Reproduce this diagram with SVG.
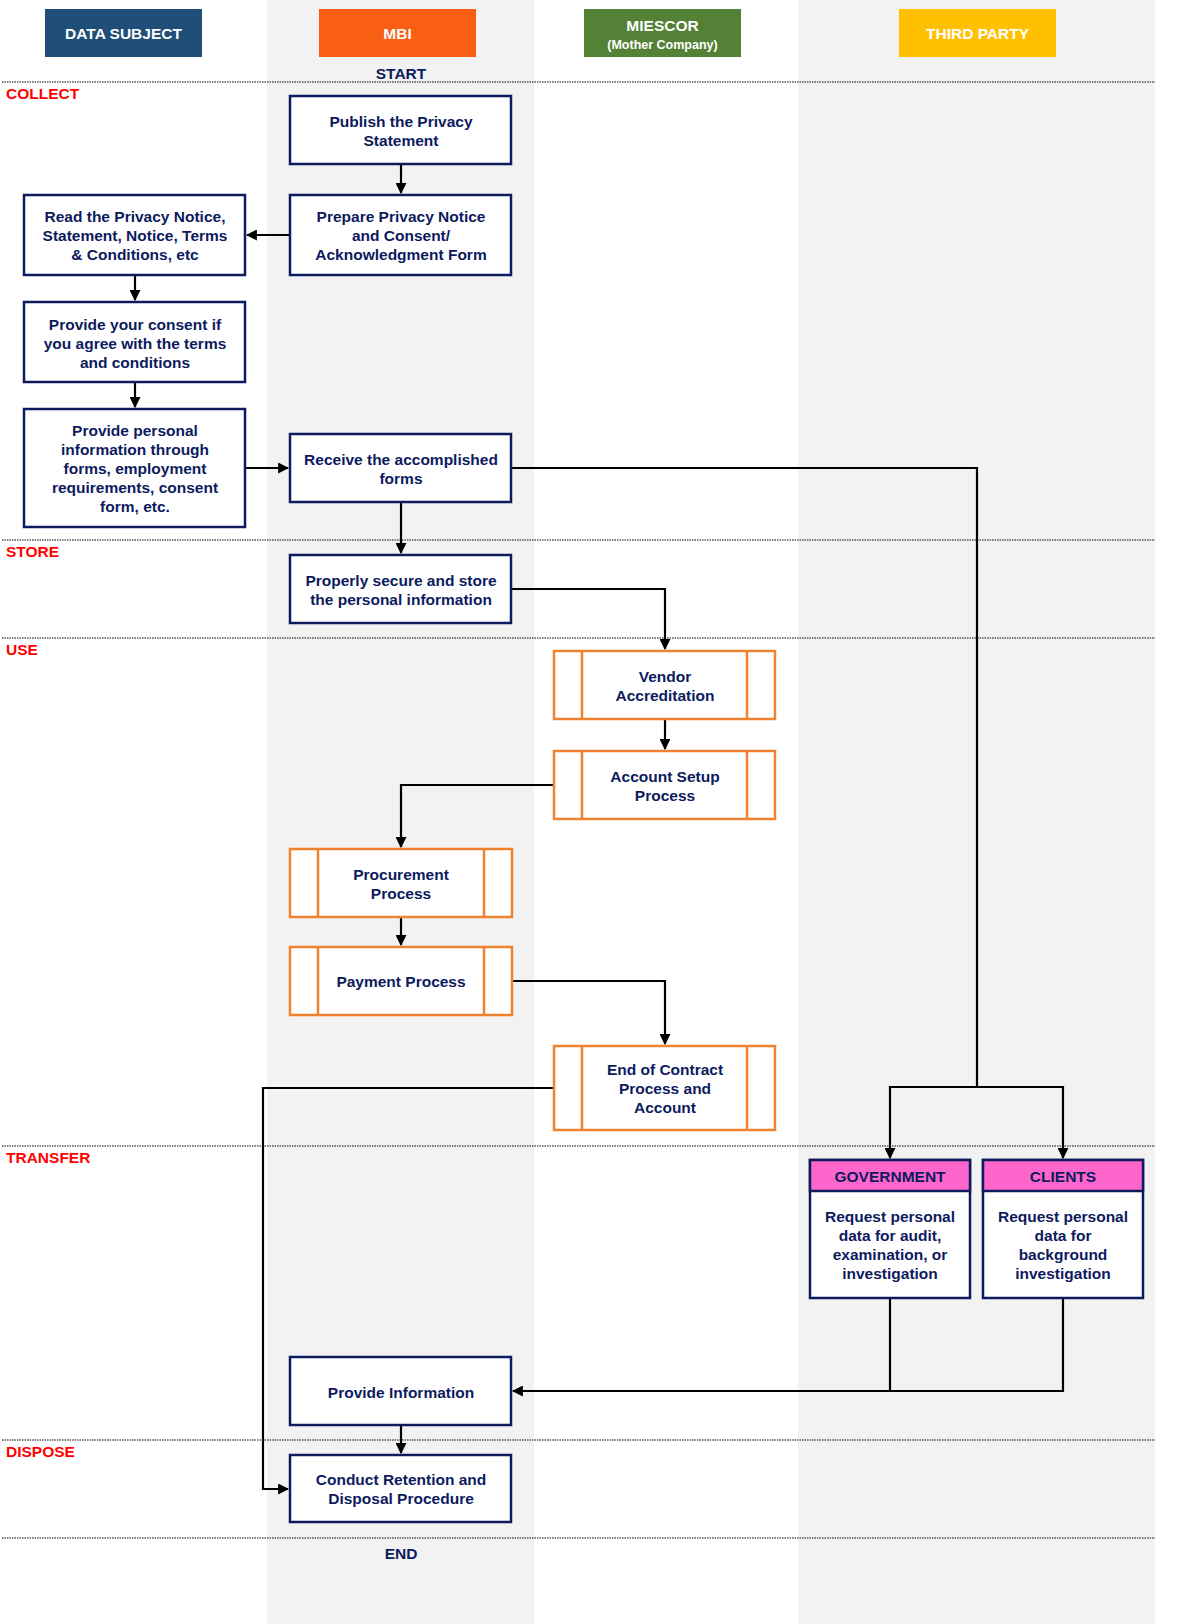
<svg xmlns="http://www.w3.org/2000/svg" width="1199" height="1624" viewBox="0 0 1199 1624">
<defs>
<marker id="ah" viewBox="0 0 10 10" refX="9" refY="5" markerWidth="5" markerHeight="5" orient="auto"><path d="M0,0 L10,5 L0,10 z" fill="#000"/></marker>
<style>
text{font-family:"Liberation Sans",Arial,sans-serif;font-weight:bold;}
.t{font-size:15.5px;fill:#0D1B5E;text-anchor:middle;}
.h{font-size:15.5px;fill:#fff;text-anchor:middle;}
.p{font-size:15.5px;fill:#FF0000;}
.b{fill:#fff;stroke:#0D1B5E;stroke-width:2.5;}
.o{fill:#fff;stroke:#F08232;stroke-width:2.5;}
.ol{stroke:#F08232;stroke-width:2.5;}
.d{stroke:#555;stroke-width:1.5;stroke-dasharray:1.5 1;}
.c{fill:none;stroke:#000;stroke-width:2.2;}
.pk{fill:#FF66CC;stroke:#0D1B5E;stroke-width:2.5;}
</style>
</defs>
<rect width="1199" height="1624" fill="#fff"/>
<rect x="267" y="0" width="267" height="1624" fill="#F2F2F2"/>
<rect x="798" y="0" width="357" height="1624" fill="#F2F2F2"/>
<g id="headers">
<rect x="45" y="9" width="157" height="48" fill="#1F4E79"/><text class="h" x="123.5" y="39">DATA SUBJECT</text>
<rect x="319" y="9" width="157" height="48" fill="#F95F14"/><text class="h" x="397.5" y="39">MBI</text>
<rect x="584" y="9" width="157" height="48" fill="#538135"/><text class="h" x="662.5" y="31">MIESCOR</text><text class="h" x="662.5" y="49" style="font-size:12.5px">(Mother Company)</text>
<rect x="899" y="9" width="157" height="48" fill="#FFC000"/><text class="h" x="977.5" y="39">THIRD PARTY</text>
<text class="t" x="401" y="79">START</text>
<text class="t" x="401" y="1559">END</text>
</g>
<g id="phases">
<line class="d" x1="2" y1="82" x2="1155" y2="82"/><line class="d" x1="2" y1="540" x2="1155" y2="540"/><line class="d" x1="2" y1="638" x2="1155" y2="638"/><line class="d" x1="2" y1="1146" x2="1155" y2="1146"/><line class="d" x1="2" y1="1440" x2="1155" y2="1440"/><line class="d" x1="2" y1="1538" x2="1155" y2="1538"/>
<text class="p" x="6" y="99">COLLECT</text><text class="p" x="6" y="557">STORE</text><text class="p" x="6" y="655">USE</text><text class="p" x="6" y="1163">TRANSFER</text><text class="p" x="6" y="1457">DISPOSE</text>
</g>
<g id="connectors">
<path class="c" d="M401,164V193" marker-end="url(#ah)"/>
<path class="c" d="M290,235H247" marker-end="url(#ah)"/>
<path class="c" d="M135,275V300" marker-end="url(#ah)"/>
<path class="c" d="M135,382V407" marker-end="url(#ah)"/>
<path class="c" d="M245,468H288" marker-end="url(#ah)"/>
<path class="c" d="M401,502V553" marker-end="url(#ah)"/>
<path class="c" d="M511,468H977V1087"/>
<path class="c" d="M977,1087H890V1158" marker-end="url(#ah)"/>
<path class="c" d="M977,1087H1063V1158" marker-end="url(#ah)"/>
<path class="c" d="M511,589H665V649" marker-end="url(#ah)"/>
<path class="c" d="M665,719V749" marker-end="url(#ah)"/>
<path class="c" d="M554,785H401V847" marker-end="url(#ah)"/>
<path class="c" d="M401,917V945" marker-end="url(#ah)"/>
<path class="c" d="M512,981H665V1044" marker-end="url(#ah)"/>
<path class="c" d="M554,1088H263V1489H288" marker-end="url(#ah)"/>
<path class="c" d="M890,1298V1391"/>
<path class="c" d="M1063,1298V1391H513" marker-end="url(#ah)"/>
<path class="c" d="M401,1425V1453" marker-end="url(#ah)"/>
</g>
<g id="n1"><rect class="b" x="290" y="96" width="221" height="68"/><text class="t" x="401" y="127">Publish the Privacy</text><text class="t" x="401" y="146">Statement</text></g>
<g id="n2"><rect class="b" x="290" y="195" width="221" height="80"/><text class="t" x="401" y="222">Prepare Privacy Notice</text><text class="t" x="401" y="241">and Consent/</text><text class="t" x="401" y="260">Acknowledgment Form</text></g>
<g id="n3"><rect class="b" x="24" y="195" width="221" height="80"/><text class="t" x="135" y="222">Read the Privacy Notice,</text><text class="t" x="135" y="241">Statement, Notice, Terms</text><text class="t" x="135" y="260">&amp; Conditions, etc</text></g>
<g id="n4"><rect class="b" x="24" y="302" width="221" height="80"/><text class="t" x="135" y="330">Provide your consent if</text><text class="t" x="135" y="349">you agree with the terms</text><text class="t" x="135" y="368">and conditions</text></g>
<g id="n5"><rect class="b" x="24" y="409" width="221" height="118"/><text class="t" x="135" y="436">Provide personal</text><text class="t" x="135" y="455">information through</text><text class="t" x="135" y="474">forms, employment</text><text class="t" x="135" y="493">requirements, consent</text><text class="t" x="135" y="512">form, etc.</text></g>
<g id="n6"><rect class="b" x="290" y="434" width="221" height="68"/><text class="t" x="401" y="465">Receive the accomplished</text><text class="t" x="401" y="484">forms</text></g>
<g id="n7"><rect class="b" x="290" y="555" width="221" height="68"/><text class="t" x="401" y="586">Properly secure and store</text><text class="t" x="401" y="605">the personal information</text></g>
<g id="n8"><rect class="o" x="554" y="651" width="221" height="68"/><line class="ol" x1="582" y1="651" x2="582" y2="719"/><line class="ol" x1="747" y1="651" x2="747" y2="719"/><text class="t" x="665" y="682">Vendor</text><text class="t" x="665" y="701">Accreditation</text></g>
<g id="n9"><rect class="o" x="554" y="751" width="221" height="68"/><line class="ol" x1="582" y1="751" x2="582" y2="819"/><line class="ol" x1="747" y1="751" x2="747" y2="819"/><text class="t" x="665" y="782">Account Setup</text><text class="t" x="665" y="801">Process</text></g>
<g id="n10"><rect class="o" x="290" y="849" width="222" height="68"/><line class="ol" x1="318" y1="849" x2="318" y2="917"/><line class="ol" x1="484" y1="849" x2="484" y2="917"/><text class="t" x="401" y="880">Procurement</text><text class="t" x="401" y="899">Process</text></g>
<g id="n11"><rect class="o" x="290" y="947" width="222" height="68"/><line class="ol" x1="318" y1="947" x2="318" y2="1015"/><line class="ol" x1="484" y1="947" x2="484" y2="1015"/><text class="t" x="401" y="987">Payment Process</text></g>
<g id="n12"><rect class="o" x="554" y="1046" width="221" height="84"/><line class="ol" x1="582" y1="1046" x2="582" y2="1130"/><line class="ol" x1="747" y1="1046" x2="747" y2="1130"/><text class="t" x="665" y="1075">End of Contract</text><text class="t" x="665" y="1094">Process and</text><text class="t" x="665" y="1113">Account</text></g>
<g id="n13"><rect class="b" x="810" y="1160" width="160" height="138"/><rect class="pk" x="810" y="1160" width="160" height="31"/><text class="t" x="890" y="1182">GOVERNMENT</text><text class="t" x="890" y="1222">Request personal</text><text class="t" x="890" y="1241">data for audit,</text><text class="t" x="890" y="1260">examination, or</text><text class="t" x="890" y="1279">investigation</text></g>
<g id="n14"><rect class="b" x="983" y="1160" width="160" height="138"/><rect class="pk" x="983" y="1160" width="160" height="31"/><text class="t" x="1063" y="1182">CLIENTS</text><text class="t" x="1063" y="1222">Request personal</text><text class="t" x="1063" y="1241">data for</text><text class="t" x="1063" y="1260">background</text><text class="t" x="1063" y="1279">investigation</text></g>
<g id="n15"><rect class="b" x="290" y="1357" width="221" height="68"/><text class="t" x="401" y="1398">Provide Information</text></g>
<g id="n16"><rect class="b" x="290" y="1455" width="221" height="67"/><text class="t" x="401" y="1485">Conduct Retention and</text><text class="t" x="401" y="1504">Disposal Procedure</text></g>
</svg>
